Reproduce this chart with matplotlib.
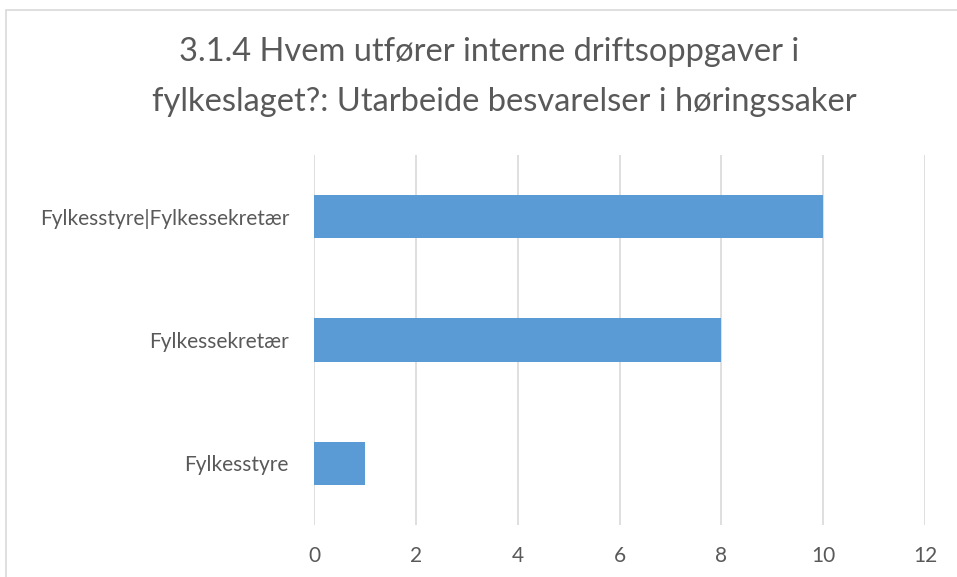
import matplotlib
matplotlib.use("Agg")
import matplotlib.pyplot as plt
from matplotlib.patches import Rectangle

# ── Data ─────────────────────────────────────────────────────────────
categories = ["Fylkesstyre", "Fylkessekretær", "Fylkesstyre|Fylkessekretær"]
values     = [1, 8, 10]
x_ticks    = [0, 2, 4, 6, 8, 10, 12]
title_l1   = "3.1.4 Hvem utfører interne driftsoppgaver i"
title_l2   = "fylkeslaget?: Utarbeide besvarelser i høringssaker"

plt.rcParams["font.family"] = ["Lato", "DejaVu Sans"]

W, H = 957, 577
fig = plt.figure(figsize=(W / 100, H / 100), dpi=100)

# light chart border (right/bottom run off the picture)
fig.patches.append(Rectangle((6 / W, -0.1), 1.1, 1 - 10 / H + 0.1,
                             transform=fig.transFigure, fill=False,
                             edgecolor="#d9d9d9", linewidth=1.2))

ax = fig.add_axes([314 / W, 1 - 525 / H, (925 - 314) / W, (525 - 155) / H])
ax.barh(range(len(categories)), values, height=0.35, color="#5b9bd5", zorder=3)

ax.set_xlim(0, 12)
ax.set_ylim(-0.5, len(categories) - 0.5)
ax.set_xticks(x_ticks)
ax.set_yticks(range(len(categories)))
ax.set_yticklabels(categories)
ax.grid(axis="x", color="#d9d9d9", linewidth=1.2, zorder=0)
for s in ax.spines.values():
    s.set_visible(False)
ax.tick_params(length=0, labelsize=15, labelcolor="#595959")
ax.tick_params(axis="x", pad=15)
ax.tick_params(axis="y", pad=18)

# title, two lines (first line sits a little left, as in the original)
fig.text(489 / W, 1 - 52 / H, title_l1, ha="center", va="center",
         fontsize=23.5, color="#595959")
fig.text(504 / W, 1 - 102 / H, title_l2, ha="center", va="center",
         fontsize=23.5, color="#595959")

fig.savefig("out.png", dpi=100)
